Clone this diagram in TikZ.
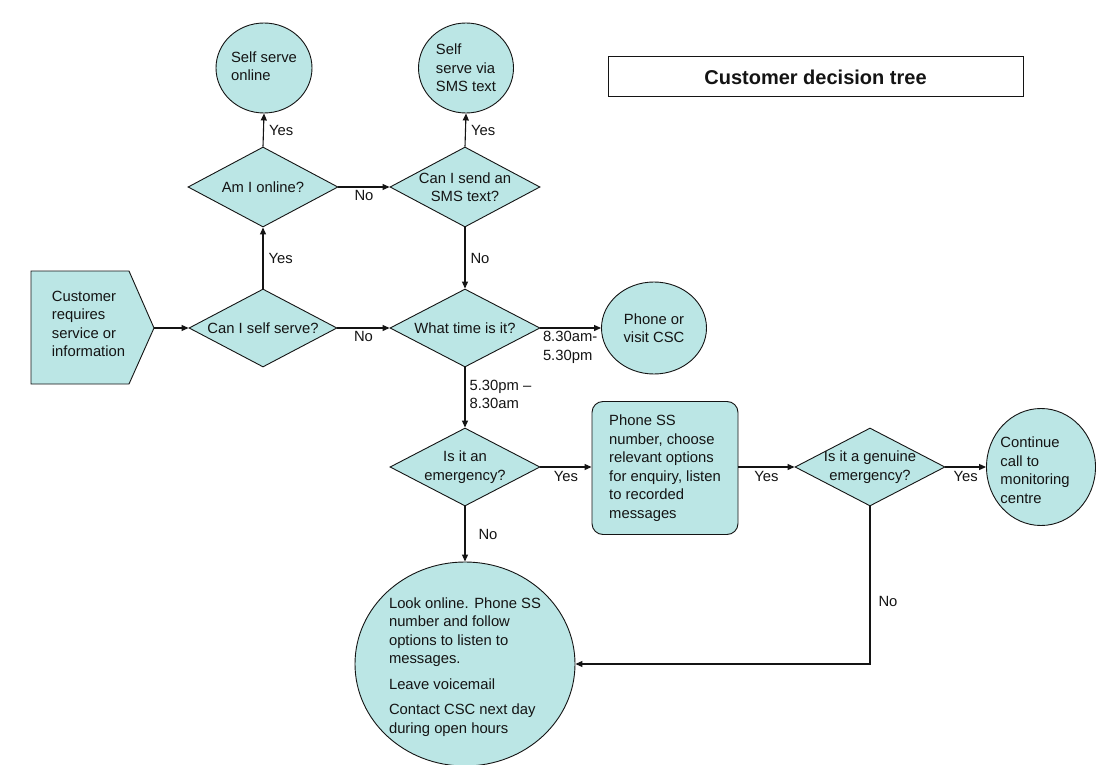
\documentclass[tikz,border=0pt]{standalone}
\usepackage{fontspec}
\setmainfont{Liberation Sans}
\usetikzlibrary{shapes.geometric,arrows.meta}
\definecolor{boxfill}{RGB}{187,230,229}
\definecolor{ink}{RGB}{20,20,20}

\begin{document}
\begin{tikzpicture}[x=1pt,y=-1pt,
  every node/.style={font=\fontsize{14.8}{18.5}\selectfont, text=ink},
  dia/.style={diamond, draw=ink, fill=boxfill, line width=0.9pt, inner sep=0pt},
  disc/.style={ellipse, draw=ink, fill=boxfill, line width=0.9pt, inner sep=0pt},
  lbl/.style={inner sep=1pt, align=left},
  arr/.style={draw=ink, line width=1.1pt, -{Triangle[length=7pt,width=6pt]}}
]
% canvas
\useasboundingbox[fill=white] (0,0) rectangle (1112,765);

% title
\node[draw=ink, line width=1pt, minimum width=415pt, minimum height=40pt,
      font=\fontsize{20}{24}\selectfont\bfseries] (title) at (815.5,77) {Customer decision tree};

% start: pointed box, with its text node on top
\draw[fill=boxfill, draw=ink, line width=0.9pt]
  (31,271) -- (129,271) -- (154,328) -- (129,384) -- (31,384) -- cycle;
\node[minimum width=123pt, minimum height=113pt, inner sep=0pt, align=left,
      label={[align=left, xshift=-4pt, yshift=4pt]center:Customer\\requires\\service or\\information}]
      (cust) at (92.5,328) {};

% decisions
\node[dia, minimum width=148pt, minimum height=78pt,
      label={center:Can I self serve?}] (self) at (263,328) {};
\node[dia, minimum width=150pt, minimum height=78pt,
      label={center:What time is it?}] (time) at (465,328) {};
\node[dia, minimum width=150pt, minimum height=80pt,
      label={center:Am I online?}] (online) at (263,187) {};
\node[dia, minimum width=150pt, minimum height=80pt,
      label={[align=center]center:Can I send an\\SMS text?}] (sms) at (465,187) {};
\node[dia, minimum width=150pt, minimum height=78pt,
      label={[align=center]center:Is it an\\emergency?}] (emerg) at (465,467) {};
\node[dia, minimum width=150pt, minimum height=78pt,
      label={[align=center]center:Is it a genuine\\emergency?}] (genuine) at (870,467) {};

% outcomes
\node[disc, minimum width=96pt, minimum height=90pt,
      label={[align=left, yshift=2pt]center:Self serve\\online}] (ssonline) at (264,68) {};
\node[disc, minimum width=95pt, minimum height=90pt,
      label={[align=left]center:Self\\serve via\\SMS text}] (sssms) at (466,68) {};
\node[disc, minimum width=105pt, minimum height=92pt,
      label={[align=center]center:Phone or\\visit CSC}] (csc) at (654,328) {};
\node[disc, minimum width=109pt, minimum height=117pt,
      label={[align=left, xshift=-6pt, yshift=-3pt]center:Continue\\call to\\monitoring\\centre}] (cont) at (1041,467) {};
\node[disc, minimum width=220pt, minimum height=204pt,
      label={[align=left, yshift=-3pt]center:Look online. Phone SS\\number and follow\\options to listen to\\messages.\\[7pt]Leave voicemail\\[7pt]Contact CSC next day\\during open hours}] (later) at (465,664) {};

% action box
\node[draw=ink, fill=boxfill, line width=0.9pt, rounded corners=11pt,
      minimum width=146pt, minimum height=133pt, inner sep=4pt, align=left] (phone) at (665,468)
      {Phone SS\\number, choose\\relevant options\\for enquiry, listen\\to recorded\\messages};

% connectors
\draw[arr] (cust.east) -- (self.west);
\draw[arr] (self.north) -- node[lbl, right=4pt] {Yes} (online.south);
\draw[arr] (online.north) -- node[lbl, right=4pt] {Yes} (ssonline.south);
\draw[arr] (online.east) -- node[lbl, below=2pt] {No} (sms.west);
\draw[arr] (sms.north) -- node[lbl, right=4pt] {Yes} (sssms.south);
\draw[arr] (sms.south) -- node[lbl, right=4pt] {No} (time.north);
\draw[arr] (self.east) -- node[lbl, below=2pt] {No} (time.west);
\draw[arr] (time.east) -- node[lbl, pos=0, anchor=north west, xshift=1pt, yshift=-2pt] {8.30am-\\5.30pm} (csc.west);
\draw[arr] (time.south) -- node[lbl, pos=0.45, right=3pt] {5.30pm --\\8.30am} (emerg.north);
\draw[arr] (emerg.east) -- node[lbl, below=3pt] {Yes} (emerg.east -| phone.west);
\draw[arr] (phone.east |- genuine.west) -- node[lbl, below=3pt] {Yes} (genuine.west);
\draw[arr] (genuine.east) -- node[lbl, below=3pt] {Yes} (cont.west);
\draw[arr] (emerg.south) -- node[lbl, right=12pt] {No} (later.north);
\draw[arr] (genuine.south) -- node[lbl, pos=0.6, right=7pt] {No} (genuine.south |- later.east) -- (later.east);
\end{tikzpicture}
\end{document}
